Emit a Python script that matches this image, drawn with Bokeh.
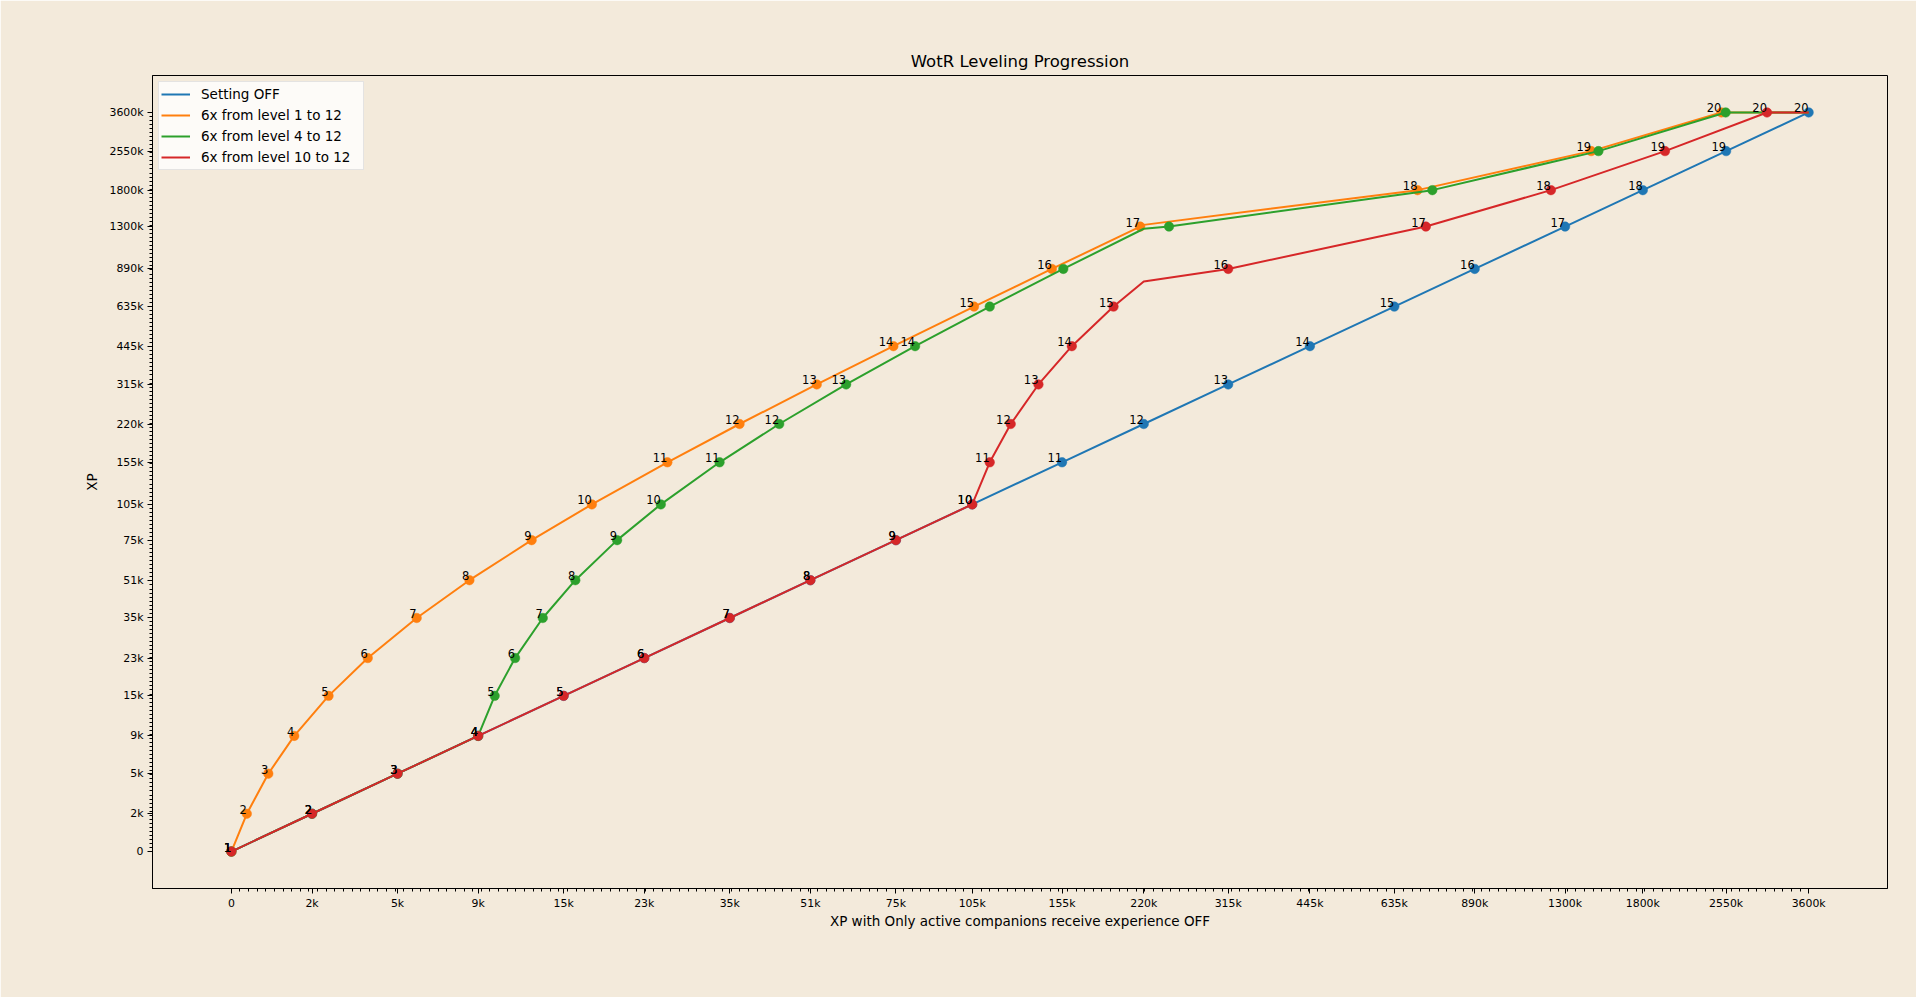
import numpy as np
from bokeh.plotting import figure
from bokeh.models import Range1d, FixedTicker, Legend, LegendItem, ColumnDataSource
from bokeh.core.properties import value
from bokeh.embed import file_html
from bokeh.resources import INLINE

# ---------------- data ----------------
LEVELS = list(range(1, 21))
LEVEL_XP = [0, 2000, 5000, 9000, 15000, 23000, 35000, 51000, 75000, 105000,
            155000, 220000, 315000, 445000, 635000, 890000, 1300000, 1800000,
            2550000, 3600000]
TICK_LABELS = ["0", "2k", "5k", "9k", "15k", "23k", "35k", "51k", "75k", "105k",
               "155k", "220k", "315k", "445k", "635k", "890k", "1300k", "1800k",
               "2550k", "3600k"]

# x (XP with setting OFF) at which each level 1..20 is reached, per series
X_OFF = [0, 2000, 5000, 9000, 15000, 23000, 35000, 51000, 75000, 105000,
         155000, 220000, 315000, 445000, 635000, 890000, 1300000, 1800000,
         2550000, 3600000]
X_1_TO_12 = [0, 333, 833, 1500, 2500, 3833, 5833, 8500, 12500, 17500,
             25833, 36667, 52500, 74167, 105833, 148333, 216667, 700000,
             1450000, 2500000]
X_4_TO_12 = [0, 2000, 5000, 9000, 10000, 11333, 13333, 16000, 20000, 25000,
             33333, 44167, 60000, 81667, 113333, 155833, 245000, 745000,
             1495000, 2545000]
X_10_TO_12 = [0, 2000, 5000, 9000, 15000, 23000, 35000, 51000, 75000, 105000,
              113333, 124167, 140000, 161667, 193333, 315000, 725000, 1225000,
              1975000, 3025000]

# extra line vertices (bend where the multiplier stops, end of the line)
BEND_X = [None, 220000, 220000, 220000]
BEND_Y = [None, 1320000, 1275000, 795000]
END_X = 3600000
END_Y = 3600000

# highest level whose number is printed next to its point, per series
LABELED_UP_TO = [20, 20, 14, 20]

NAMES = ["Setting OFF", "6x from level 1 to 12", "6x from level 4 to 12",
         "6x from level 10 to 12"]
COLORS = ["#1f77b4", "#ff7f0e", "#2ca02c", "#d62728"]
SERIES_X = [X_OFF, X_1_TO_12, X_4_TO_12, X_10_TO_12]

# axis scale: log(xp + SHIFT)
SHIFT = 5000

FONT = "DejaVu Sans"
BG = "#f3eadb"

span = np.log((LEVEL_XP[-1] + SHIFT) / (LEVEL_XP[0] + SHIFT))
lo = (LEVEL_XP[0] + SHIFT) * np.exp(-0.05 * span)
hi = (LEVEL_XP[-1] + SHIFT) * np.exp(0.05 * span)

p = figure(width=1916, height=997, output_backend="svg", toolbar_location=None,
           x_axis_type="log", y_axis_type="log",
           x_range=Range1d(lo, hi), y_range=Range1d(lo, hi),
           min_border_left=152, min_border_right=29, min_border_top=75,
           min_border_bottom=109)

p.background_fill_color = BG
p.border_fill_color = BG
p.outline_line_color = "black"
p.outline_line_width = 1
p.grid.visible = False

p.title.text = "WotR Leveling Progression"
p.title.align = "center"
p.title.text_font = FONT
p.title.text_font_size = "16.5px"
p.title.text_font_style = "normal"
p.title.text_color = "black"
p.title.standoff = 9

major = [v + SHIFT for v in LEVEL_XP]
minor = list(np.exp(np.linspace(np.log(major[0]), np.log(major[-1]), 184)))
overrides = {float(v + SHIFT): lab for v, lab in zip(LEVEL_XP, TICK_LABELS)}

for ax in (p.xaxis[0], p.yaxis[0]):
    ax.ticker = FixedTicker(ticks=major, minor_ticks=minor)
    ax.major_label_overrides = overrides
    ax.major_label_text_font = FONT
    ax.major_label_text_font_size = "10.9px"
    ax.major_label_text_color = "black"
    ax.axis_label_text_font = FONT
    ax.axis_label_text_font_size = "13.5px"
    ax.axis_label_text_font_style = "normal"
    ax.axis_label_text_color = "black"
    ax.major_tick_in = 0
    ax.major_tick_out = 5
    ax.minor_tick_in = 0
    ax.minor_tick_out = 3
    ax.axis_line_color = "black"
    ax.major_tick_line_color = "black"
    ax.minor_tick_line_color = "black"

p.xaxis.axis_label = "XP with Only active companions receive experience OFF"
p.yaxis.axis_label = "XP"
p.xaxis.major_label_standoff = 3
p.yaxis.major_label_standoff = 4
p.xaxis.axis_label_standoff = 0
p.yaxis.axis_label_standoff = 6

legend_items = []
label_sources = []
for name, color, xs, bx, by, upto in zip(NAMES, COLORS, SERIES_X, BEND_X,
                                         BEND_Y, LABELED_UP_TO):
    lx = list(xs)
    ly = list(LEVEL_XP)
    if bx is not None:
        idx = next(i for i, v in enumerate(lx) if v > bx)
        lx.insert(idx, bx)
        ly.insert(idx, by)
    if lx[-1] != END_X:
        lx.append(END_X)
        ly.append(END_Y)
    line = p.line([v + SHIFT for v in lx], [v + SHIFT for v in ly],
                  line_color=color, line_width=2)
    p.scatter([v + SHIFT for v in xs], [v + SHIFT for v in LEVEL_XP],
              size=9.5, fill_color=color, line_color=color, line_width=0.5)
    legend_items.append(LegendItem(label=name, renderers=[line]))
    label_sources.append(ColumnDataSource(dict(
        x=[v + SHIFT for v in xs[:upto]],
        y=[v + SHIFT for v in LEVEL_XP[:upto]],
        t=[str(l) for l in LEVELS[:upto]])))

for src in label_sources:
    p.text(x="x", y="y", text="t", source=src, text_font=value(FONT),
           text_font_size="11.5px", text_align="right", text_baseline="bottom",
           text_color="black")

legend = Legend(items=legend_items, location="top_left")
legend.margin = 6
legend.padding = 2
legend.spacing = 1
legend.glyph_width = 29
legend.glyph_height = 20
legend.label_height = 20
legend.label_width = 160
legend.label_standoff = 11
legend.label_text_font = FONT
legend.label_text_font_size = "13.5px"
legend.label_text_color = "black"
legend.background_fill_color = "white"
legend.background_fill_alpha = 0.8
legend.border_line_color = "#cccccc"
legend.border_line_width = 1
p.add_layout(legend)

open("out.html", "w").write(file_html(p, INLINE))
